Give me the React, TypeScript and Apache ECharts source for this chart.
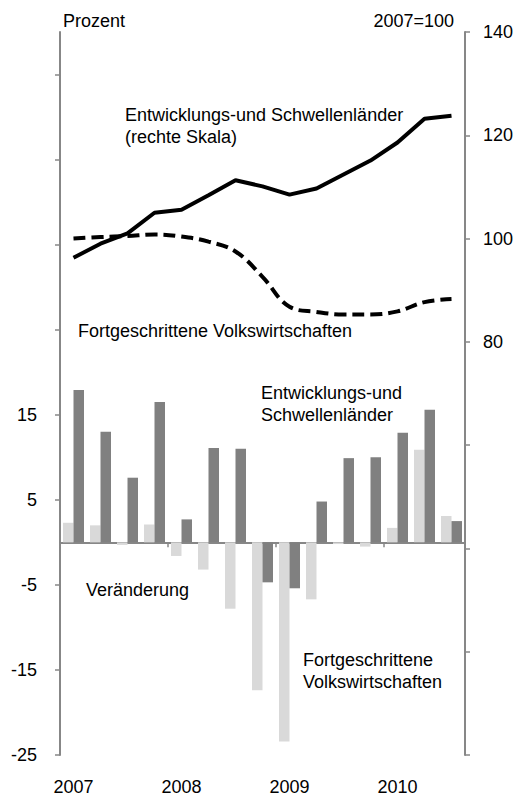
import React, { useEffect, useRef } from "react";
import * as echarts from "echarts";

const quarters = [
  "2007 Q1", "2007 Q2", "2007 Q3", "2007 Q4",
  "2008 Q1", "2008 Q2", "2008 Q3", "2008 Q4",
  "2009 Q1", "2009 Q2", "2009 Q3", "2009 Q4",
  "2010 Q1", "2010 Q2", "2010 Q3",
];
// Veränderung, Prozent (linke Skala)
const fortgeschritteneChange = [2.3, 2.0, -0.3, 2.1, -1.6, -3.2, -7.8, -17.4, -23.4, -6.7, -0.2, -0.5, 1.7, 10.9, 3.1];
const schwellenChange = [17.9, 13.0, 7.6, 16.5, 2.7, 11.1, 11.0, -4.7, -5.4, 4.8, 9.9, 10.0, 12.9, 15.6, 2.5];
// Index 2007=100 (rechte Skala)
const schwellenIndex = [96.3, 99.0, 101.0, 105.0, 105.6, 108.4, 111.3, 110.1, 108.5, 109.7, 112.4, 115.1, 118.6, 123.2, 123.8];
const fortgeschritteneIndex = [100.0, 100.3, 100.5, 100.8, 100.4, 99.4, 97.5, 92.6, 86.8, 85.8, 85.3, 85.3, 85.9, 87.7, 88.3];

const leftTicks = [-25, -15, -5, 5, 15, 25, 35, 45, 55];
const leftLabels = [-25, -15, -5, 5, 15];

export default function App() {
  const ref = useRef<HTMLDivElement>(null);
  useEffect(() => {
    document.body.style.margin = "0";
    const chart = echarts.init(ref.current!, null, { renderer: "svg" });
    const font = "Liberation Sans, Arial, sans-serif";
    const axisColor = "#878787";
    const txt = (x: number, y: number, text: string, align: string = "left") => ({
      type: "text",
      x,
      y,
      style: { text, fill: "#000", font: `18px ${font}`, textAlign: align, textVerticalAlign: "middle" },
    });
    chart.setOption({
      animation: false,
      grid: { left: 60, right: 53, top: 32, bottom: 41 },
      xAxis: [
        {
          type: "category",
          data: quarters,
          boundaryGap: true,
          axisLine: { show: true, onZero: true, onZeroAxisIndex: 0, lineStyle: { color: axisColor, width: 2 } },
          axisTick: { show: true, interval: 3, length: 5, lineStyle: { color: axisColor, width: 1.5 } },
          axisLabel: { show: false },
        },
        {
          type: "category",
          data: quarters,
          position: "bottom",
          boundaryGap: true,
          axisLine: { show: false },
          axisTick: { show: false },
          axisLabel: {
            interval: 3,
            margin: 23,
            color: "#000",
            fontSize: 18,
            fontFamily: font,
            formatter: (v: string) => v.slice(0, 4),
          },
        },
      ],
      yAxis: [
        {
          type: "value",
          position: "left",
          min: -25,
          max: 60,
          interval: 10,
          splitLine: { show: false },
          axisLine: { show: true, lineStyle: { color: axisColor, width: 2 } },
          axisTick: { show: true, length: 5, customValues: leftTicks, lineStyle: { color: axisColor, width: 1.5 } },
          axisLabel: { customValues: leftLabels, margin: 23, color: "#000", fontSize: 18, fontFamily: font },
        },
        {
          type: "value",
          position: "right",
          min: 0,
          max: 140,
          interval: 20,
          splitLine: { show: false },
          axisLine: { show: true, lineStyle: { color: axisColor, width: 2 } },
          axisTick: { show: true, length: 5, lineStyle: { color: axisColor, width: 1.5 } },
          axisLabel: {
            margin: 18,
            color: "#000",
            fontSize: 18,
            fontFamily: font,
            formatter: (v: number) => (v >= 80 ? String(v) : ""),
          },
        },
      ],
      series: [
        {
          name: "Fortgeschrittene Volkswirtschaften (Veränderung)",
          type: "bar",
          xAxisIndex: 0,
          yAxisIndex: 0,
          data: fortgeschritteneChange,
          barWidth: 10.5,
          barGap: "0%",
          itemStyle: { color: "#d9d9d9" },
        },
        {
          name: "Entwicklungs-und Schwellenländer (Veränderung)",
          type: "bar",
          xAxisIndex: 0,
          yAxisIndex: 0,
          data: schwellenChange,
          barWidth: 10.5,
          barGap: "0%",
          itemStyle: { color: "#808080" },
        },
        {
          name: "Entwicklungs-und Schwellenländer",
          type: "line",
          xAxisIndex: 0,
          yAxisIndex: 1,
          data: schwellenIndex,
          symbol: "none",
          lineStyle: { color: "#000", width: 4 },
        },
        {
          name: "Fortgeschrittene Volkswirtschaften",
          type: "line",
          xAxisIndex: 0,
          yAxisIndex: 1,
          data: fortgeschritteneIndex,
          symbol: "none",
          smooth: 0.4,
          lineStyle: { color: "#000", width: 4, type: [12, 6] },
        },
      ],
      graphic: [
        txt(63, 21, "Prozent"),
        txt(454, 21, "2007=100", "right"),
        txt(125, 115, "Entwicklungs-und Schwellenländer"),
        txt(125, 137, "(rechte Skala)"),
        txt(78, 331, "Fortgeschrittene Volkswirtschaften"),
        txt(261, 393, "Entwicklungs-und"),
        txt(261, 415, "Schwellenländer"),
        txt(86, 590, "Veränderung"),
        txt(303, 660, "Fortgeschrittene"),
        txt(303, 682, "Volkswirtschaften"),
      ],
    });
    return () => chart.dispose();
  }, []);
  return <div ref={ref} style={{ width: 518, height: 796 }} />;
}
